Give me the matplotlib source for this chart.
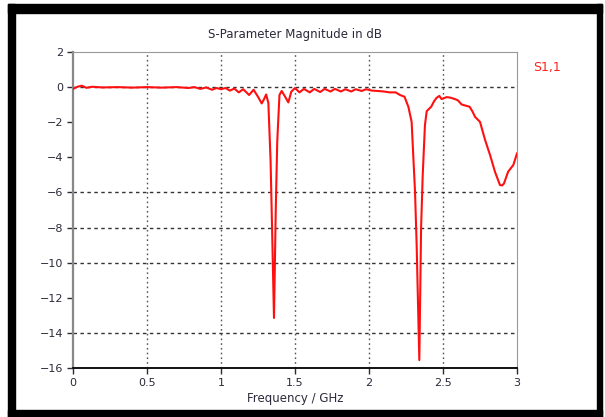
import matplotlib
matplotlib.use('Agg')
import matplotlib.pyplot as plt
from matplotlib.patches import Rectangle

# S1,1 (GHz, dB)
freq = [0.00, 0.03, 0.06, 0.09, 0.13, 0.20, 0.30, 0.40, 0.50, 0.60, 0.70, 0.78,
        0.82, 0.86, 0.90, 0.94, 0.97, 1.00, 1.03, 1.06, 1.09, 1.12, 1.15, 1.19,
        1.22, 1.25, 1.275, 1.29, 1.305, 1.32, 1.335, 1.345, 1.358, 1.37, 1.38,
        1.395, 1.41, 1.43, 1.455, 1.475, 1.50, 1.53, 1.56, 1.60, 1.63, 1.67,
        1.70, 1.74, 1.77, 1.81, 1.84, 1.88, 1.91, 1.95, 1.98, 2.02, 2.06, 2.10,
        2.14, 2.18, 2.21, 2.24, 2.266, 2.288, 2.311, 2.322, 2.34, 2.352, 2.363,
        2.378, 2.39, 2.42, 2.44, 2.457, 2.475, 2.49, 2.525, 2.55, 2.58, 2.60,
        2.626, 2.68, 2.70, 2.716, 2.75, 2.784, 2.818, 2.851, 2.885, 2.90, 2.912,
        2.94, 2.975, 3.00]
s11 = [-0.10, 0.02, 0.08, -0.04, 0.02, -0.02, 0.00, -0.03, 0.00, -0.03, 0.00, -0.05,
       0.00, -0.10, -0.02, -0.15, -0.05, -0.12, -0.05, -0.20, -0.08, -0.30, -0.12, -0.45,
       -0.15, -0.55, -0.93, -0.70, -0.42, -0.90, -4.2, -8.0, -13.15, -7.0, -3.1,
       -0.45, -0.22, -0.50, -0.87, -0.26, -0.05, -0.30, -0.10, -0.30, -0.10, -0.28,
       -0.10, -0.25, -0.10, -0.25, -0.12, -0.25, -0.12, -0.22, -0.12, -0.20, -0.22, -0.25,
       -0.30, -0.30, -0.45, -0.55, -1.12, -1.98, -5.96, -9.0, -15.55, -8.0, -5.0,
       -2.16, -1.37, -1.12, -0.80, -0.61, -0.50, -0.68, -0.57, -0.60, -0.68, -0.75,
       -0.99, -1.12, -1.40, -1.69, -1.98, -3.0, -3.87, -4.82, -5.58, -5.60, -5.49,
       -4.82, -4.44, -3.78]

x_ticks = [0, 0.5, 1, 1.5, 2, 2.5, 3]
x_labels = ['0', '0.5', '1', '1.5', '2', '2.5', '3']
y_ticks = [2, 0, -2, -4, -6, -8, -10, -12, -14, -16]
grid_y = [0, -6, -8, -10, -14]

W, H = 605, 417
fig = plt.figure(figsize=(W / 100, H / 100), dpi=100)
ax = fig.add_axes([73 / W, 1 - 368 / H, 444 / W, 316 / H])

txt = '#2a2a3a'
ax.plot(freq, s11, color='#ff1010', lw=1.5, zorder=3)

ax.set_xlim(0, 3)
ax.set_ylim(-16, 2)
ax.set_xticks(x_ticks)
ax.set_xticklabels(x_labels)
ax.set_yticks(y_ticks)
ax.tick_params(direction='out', length=4, width=1, labelsize=8, colors=txt, pad=3)

for xv in x_ticks[1:-1]:
    ax.axvline(xv, color='#555555', ls=(0, (1.2, 2.2)), lw=1.0, zorder=1)
for yv in grid_y:
    ax.axhline(yv, color='#333333', ls=(0, (2.5, 2.5)), lw=1.0, zorder=1)

ax.spines['left'].set_color('#888888')
ax.spines['left'].set_linewidth(1.6)
ax.spines['bottom'].set_color('#111111')
ax.spines['bottom'].set_linewidth(1.4)
for s in ['top', 'right']:
    ax.spines[s].set_color('#999999')
    ax.spines[s].set_linewidth(0.8)

ax.set_title('S-Parameter Magnitude in dB', fontsize=8.5, color=txt, pad=10)
ax.set_xlabel('Frequency / GHz', fontsize=8.5, color=txt, labelpad=3)

fig.text(533 / W, 1 - 67 / H, 'S1,1', color='#ff2020', fontsize=9, va='center')

# thick black frame around the figure
for (x0, y0, w, h) in [(8, 4, 594, 9), (8, 4, 7, 413), (597, 4, 5, 413), (8, 410, 594, 7)]:
    fig.patches.append(Rectangle((x0 / W, 1 - (y0 + h) / H), w / W, h / H,
                                 transform=fig.transFigure, color='black', zorder=10))

fig.savefig('out.png', dpi=100)
